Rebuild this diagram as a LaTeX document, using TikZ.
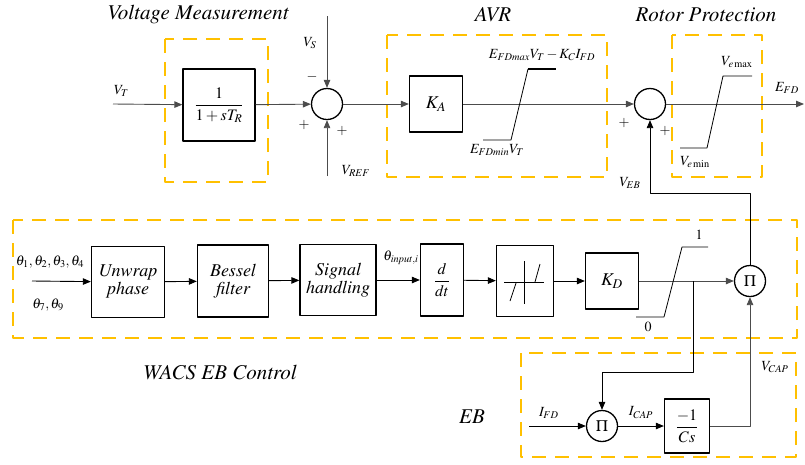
\documentclass[tikz,border=0pt]{standalone}
\usepackage[T1]{fontenc}
\usepackage{amsmath}
\usepackage{mathptmx}
\usetikzlibrary{arrows.meta}
\definecolor{zone}{RGB}{255,192,0}
\begin{document}
\begin{tikzpicture}[x=1pt, y=-1pt, line join=round, >={Triangle[length=8pt,width=6.5pt]}, font=\fontsize{14}{16}\selectfont]
	\tikzset{blk/.style={draw, line width=1.3pt, inner sep=2pt, align=center, font=\fontsize{18}{20}\selectfont\itshape},
		sumc/.style={draw, circle, line width=1.3pt, minimum size=31pt, inner sep=0pt, font=\fontsize{16}{18}\selectfont},
		wire/.style={line width=0.9pt, black!70},
		zonebox/.style={draw=zone, line width=2.6pt, dash pattern=on 14pt off 9pt},
		title/.style={font=\fontsize{21}{24}\selectfont\itshape},
		lim/.style={line width=0.8pt}}
	
	\useasboundingbox (0,0) rectangle (805,464);
	
	% dashed zones
	\draw[zonebox] (165,39) rectangle (268,182);
	\draw[zonebox] (387,35) rectangle (607,177);
	\draw[zonebox] (672,35) rectangle (762,177);
	\draw[zonebox] (13,220) rectangle (797,338);
	\draw[zonebox] (521,353) rectangle (796,457);
	\node[title] at (198,15) {Voltage Measurement};
	\node[title] at (493,15) {AVR};
	\node[title] at (706,15) {Rotor Protection};
	\node[title] at (220,372) {WACS EB Control};
	\node[title] at (472,417) {EB};
	
	% upper row
	\node[blk, minimum width=72pt, minimum height=72pt, font=\fontsize{16}{18}\selectfont] (tr) at (219,105) {$\dfrac{1}{1+sT_R}$};
	\node[sumc] (s1) at (327,104) {};
	\node[blk, minimum width=53pt, minimum height=56pt] (ka) at (436,104) {$K_A$};
	\node[sumc] (s2) at (650,104) {};
	\coordinate (vt) at (113,104);
	\coordinate (vs) at (327,16);
	\coordinate (vref) at (327,176);
	\coordinate (efd) at (804,104);
	\draw[wire,->] (vt) -- (tr) node[pos=0.12, above=4pt, black] {$V_T$};
	\draw[wire,->] (tr) -- (s1);
	\draw[wire,->] (vs) -- (s1);
	\draw[wire,->] (vref) -- (s1);
	\draw[wire,->] (s1) -- (ka);
	\draw[wire,->] (ka) -- (s2);
	\draw[wire,->] (s2) -- (efd);
	\node at (310,43) {$V_S$};
	\node at (312,77) {$-$};
	\node at (304,125) {$+$};
	\node at (342,131) {$+$};
	\node at (356,171) {$V_{REF}$};
	\node at (624,123) {$+$};
	\node at (665,131) {$+$};
	\node at (787,88) {$E_{FD}$};
	
	% AVR limiter
	\draw[line width=1.6pt] (528,69) -- (556,69);
	\draw[lim] (528,69) -- (511,140) -- (483,140);
	\node at (542,55) {$E_{FD\mathit{max}}V_T-K_CI_{FD}$};
	\node at (497,150) {$E_{FD\mathit{min}}V_T$};
	
	% rotor limiter
	\draw[lim] (752,76) -- (723,76) -- (707,148) -- (680,148);
	\node at (737,62) {$V_{e\max}$};
	\node at (695,162) {$V_{e\min}$};
	
	% lower row
	\node[blk, minimum width=73pt, minimum height=71pt] (uw) at (128,282) {Unwrap\\[-2pt]phase};
	\node[blk, minimum width=71pt, minimum height=72pt] (bf) at (233,281) {Bessel\\[-2pt]filter};
	\node[blk, minimum width=76pt, minimum height=71pt] (sh) at (338,280) {Signal\\[-2pt]handling};
	\node[blk, minimum width=43pt, minimum height=72pt, font=\fontsize{16}{18}\selectfont] (ddt) at (442,280) {$\dfrac{d}{dt}$};
	\node[blk, minimum width=57pt, minimum height=71pt] (db) at (525,281) {};
	\node[blk, minimum width=53pt, minimum height=56pt] (kd) at (612,281) {$K_D$};
	\node[sumc] (p1) at (750,281) {$\Pi$};
	\coordinate (thin) at (32,281);
	\coordinate (br) at (693,281);
	\coordinate (bk) at (693,372);
	\coordinate (veb) at (650,193);
	\draw[line width=0.9pt,->] (thin) -- (uw);
	\draw[line width=0.9pt,->] (uw) -- (bf);
	\draw[line width=0.9pt,->] (bf) -- (sh);
	\draw[line width=0.9pt,->] (sh) -- (ddt);
	\draw[line width=0.9pt,->] (ddt) -- (db);
	\draw[line width=0.9pt,->] (db) -- (kd);
	\draw[wire,->] (kd) -- (p1);
	\node at (50,262) {$\theta_1{,}\,\theta_2{,}\,\theta_3{,}\,\theta_4$};
	\node at (48,305) {$\theta_7{,}\,\theta_9$};
	\node at (401,258) {$\theta_{\mathit{input},i}$};
	
	% dead band symbol
	\draw[lim] (524,261) -- (524,304);
	\draw[lim] (504,282) -- (544,282);
	\draw[lim] (510,301) -- (516,283);
	\draw[lim] (535,282) -- (540,264);
	
	% 0..1 limiter
	\draw[lim] (708,247) -- (682,247) -- (664,317) -- (636,317);
	\node at (699,235) {$1$};
	\node at (648,327) {$0$};
	
	% EB
	\node[sumc] (p2) at (602,426) {$\Pi$};
	\node[blk, minimum width=45pt, minimum height=54pt, font=\fontsize{16}{18}\selectfont] (cs) at (687,426) {$\dfrac{-1}{Cs}$};
	\coordinate (ifd) at (529,426);
	\draw[line width=0.9pt,->] (ifd) -- (p2) node[pos=0.35, above=4pt] {$I_{FD}$};
	\draw[line width=0.9pt,->] (p2) -- (cs) node[midway, above=4pt] {$I_{CAP}$};
	\draw[line width=0.9pt,->] (br) -- (bk) -| (p2);
	\draw[wire,->] (cs) -| (p1);
	\node at (775,367) {$V_{CAP}$};
	\draw[line width=0.9pt,->] (p1) |- (veb) -- (s2);
	\node at (630,183) {$V_{EB}$};
\end{tikzpicture}
\end{document}
